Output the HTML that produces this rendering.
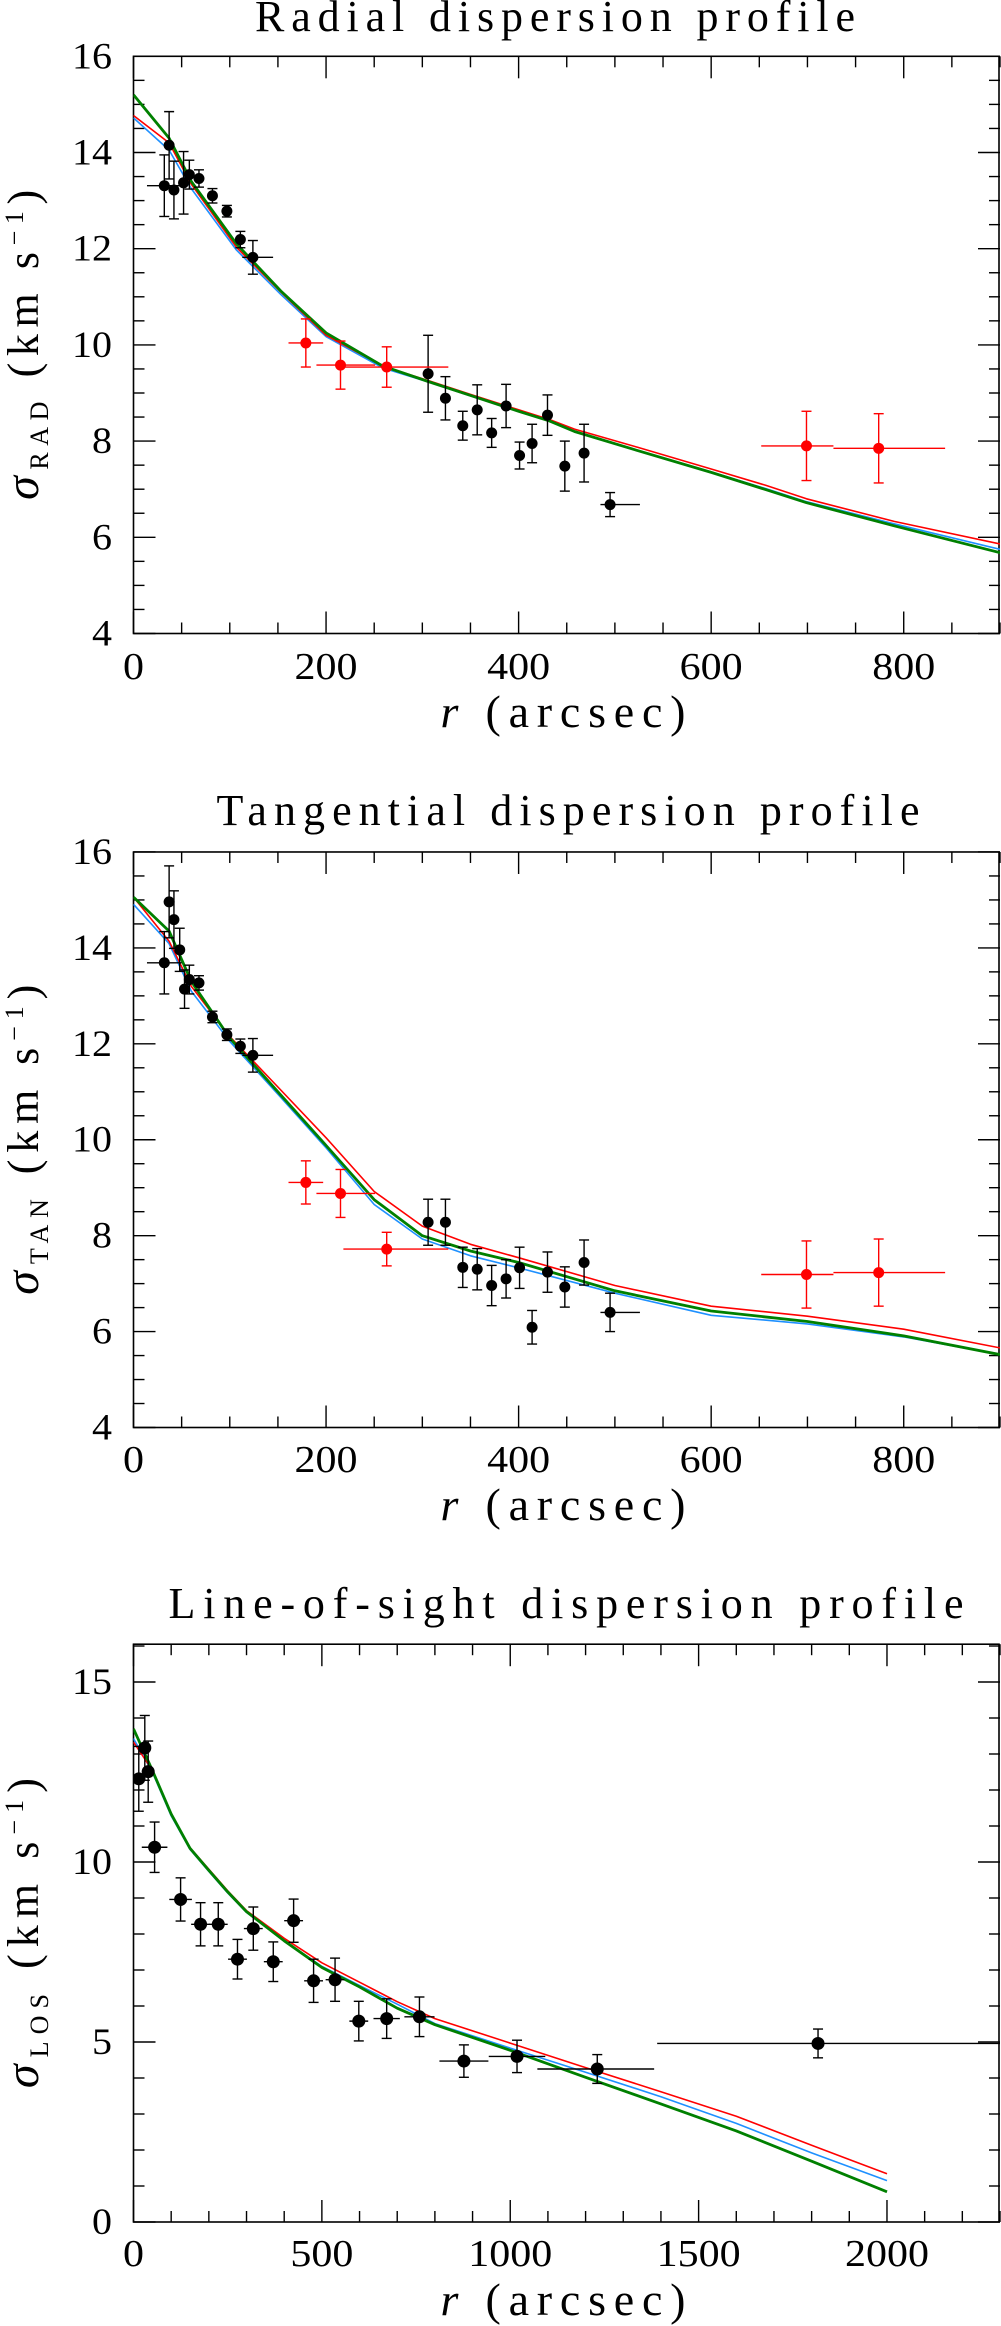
<!DOCTYPE html>
<html><head><meta charset="utf-8"><style>
html,body{margin:0;padding:0;background:#fff;}
svg{display:block;}
text{font-family:"Liberation Serif","DejaVu Serif",serif;fill:#000;}
</style></head><body>
<svg id="chart" width="1001" height="2326" viewBox="0 0 1001 2326" xmlns="http://www.w3.org/2000/svg"></svg>
<script>
// ---------- Radial panel data ----------
const radR    = [32,37,42,52,58,68,82,97,111,124,306,324,342,357,372,387,401,414,430,448,468,495];
const radV    = [13.31,14.15,13.22,13.37,13.54,13.46,13.10,12.78,12.19,11.82,9.40,8.89,8.32,8.65,8.17,8.73,7.70,7.95,8.54,7.48,7.75,6.68];
const radE    = [0.64,0.7,0.6,0.65,0.3,0.18,0.15,0.12,0.17,0.35,0.8,0.45,0.3,0.52,0.3,0.45,0.28,0.4,0.42,0.52,0.6,0.25];
const radXlo  = [18,0,0,0,0,0,0,0,0,11,0,0,0,0,0,0,0,0,0,0,0,10];
const radXhi  = [18,0,0,0,0,0,0,0,0,21,0,0,0,0,0,0,0,0,0,0,0,31];
const radRedR = [179,215,263,699,774];
const radRedV = [10.04,9.58,9.54,7.90,7.85];
const radRedE = [0.5,0.5,0.42,0.72,0.72];
const radRedXlo = [18,25,45,47,47];
const radRedXhi = [18,36,64,28,69];
const radCurveR = [0,37,60,107,153,200,259,306,350,400,432,458,524,600,657,699,790,900];
const radGreen  = [15.2,14.3,13.4,12.1,11.12,10.25,9.56,9.24,8.95,8.62,8.42,8.2,7.8,7.35,6.99,6.72,6.24,5.68];
const radRed    = [14.77,14.2,13.34,12.03,11.1,10.2,9.56,9.26,8.97,8.65,8.45,8.25,7.87,7.42,7.08,6.8,6.33,5.86];
const radBlue   = [14.72,14.05,13.25,11.97,11.05,10.17,9.52,9.23,8.94,8.62,8.42,8.2,7.8,7.36,7.01,6.74,6.28,5.75];
// ---------- Tangential panel data ----------
const tanR    = [32,37,42,48,53,58,68,82,97,111,124,306,324,342,357,372,387,401,414,430,448,468,495];
const tanV    = [13.69,14.96,14.59,13.96,13.14,13.34,13.27,12.56,12.19,11.95,11.76,8.28,8.28,7.34,7.30,6.96,7.10,7.33,6.09,7.24,6.93,7.44,6.40];
const tanE    = [0.65,0.75,0.6,0.45,0.4,0.3,0.15,0.12,0.12,0.15,0.35,0.48,0.48,0.42,0.43,0.42,0.4,0.43,0.35,0.42,0.42,0.47,0.4];
const tanXlo  = [18,0,0,0,0,0,0,0,0,0,11,0,0,0,0,0,0,0,0,0,0,0,10];
const tanXhi  = [18,0,0,0,0,0,0,0,0,0,21,0,0,0,0,0,0,0,0,0,0,0,31];
const tanRedR = [179,215,263,699,774];
const tanRedV = [9.11,8.88,7.72,7.19,7.23];
const tanRedE = [0.45,0.5,0.35,0.7,0.7];
const tanRedXlo = [18,25,45,47,47];
const tanRedXhi = [18,36,64,28,69];
const tanCurveR = [0,37,60,100,150,200,250,300,350,400,500,600,700,800,900];
const tanGreen  = [15.06,14.35,13.3,12.12,11.0,9.88,8.75,8.0,7.68,7.44,6.85,6.43,6.21,5.91,5.52];
const tanRed    = [15.06,14.14,13.2,12.15,11.1,10.04,8.92,8.2,7.82,7.54,6.96,6.53,6.32,6.05,5.66];
const tanBlue   = [14.91,14.09,13.1,12.05,10.95,9.83,8.65,7.93,7.58,7.33,6.80,6.34,6.16,5.89,5.52];
// ---------- Line-of-sight panel data ----------
const losR    = [14,30,39,56,125,178,225,276,318,371,425,478,535,598,672,759,877,1018,1231,1817];
const losV    = [12.31,13.17,12.51,10.41,8.96,8.27,8.27,7.30,8.15,7.23,8.37,6.70,6.73,5.58,5.65,5.70,4.47,4.60,4.25,4.96];
const losE    = [0.9,0.9,0.85,0.7,0.6,0.6,0.6,0.55,0.6,0.55,0.6,0.6,0.6,0.55,0.55,0.55,0.45,0.45,0.4,0.4];
const losXlo  = [14,14,14,34,30,25,25,25,25,25,25,25,25,25,35,40,65,75,159,427];
const losXhi  = [14,14,14,34,30,25,25,25,25,25,25,25,25,25,35,40,65,75,151,483];
const losCurveR = [0,50,100,150,200,250,300,400,500,600,700,800,1000,1200,1400,1600,1800,2000];
const losGreen  = [13.7,12.55,11.33,10.38,9.77,9.17,8.62,7.81,7.07,6.53,5.94,5.48,4.77,4.02,3.28,2.53,1.69,0.84];
const losRed    = [13.33,12.55,11.33,10.4,9.8,9.2,8.65,7.88,7.2,6.66,6.12,5.65,4.97,4.29,3.62,2.94,2.13,1.34];
const losBlue   = [13.43,12.5,11.28,10.35,9.74,9.14,8.6,7.82,7.1,6.57,6.05,5.51,4.83,4.16,3.48,2.74,1.92,1.15];

const NS='http://www.w3.org/2000/svg';
const svg=document.getElementById('chart');
function mk(tag,attrs,parent){const e=document.createElementNS(NS,tag);for(const k in attrs)e.setAttribute(k,attrs[k]);(parent||svg).appendChild(e);return e;}

function panel(cfg){
  const g=mk('g',{});
  
  
  const L=133.5,R=1000;
  const sx=v=>L+(v-cfg.xmin)/(cfg.xmax-cfg.xmin)*(R-L);
  const sy=v=>cfg.y0-(v-cfg.ymin)*cfg.ppu;
  const T=sy(cfg.ymax),B=sy(cfg.ymin);
  // title
  const t=mk('text',{x:cfg.titleX,y:cfg.titleY,'font-size':44,'text-anchor':'middle',textLength:cfg.titleW,lengthAdjust:'spacing'},g);
  t.textContent=cfg.title;
  
  
  // frame
  const fr=mk('rect',{x:L,y:T,width:R-L-1,height:B-T,fill:'none',stroke:'#000','stroke-width':1.6},g);
  
  
  // x ticks
  for(let v=cfg.xmin;v<=cfg.xmax+1e-6;v+=cfg.xminor){
    const major=Math.abs(v/cfg.xmajor-Math.round(v/cfg.xmajor))<1e-6;
    const len=major?22:11, x=sx(v);
    mk('line',{x1:x,y1:B,x2:x,y2:B-len,stroke:'#000','stroke-width':1.4},g);
    mk('line',{x1:x,y1:T,x2:x,y2:T+len,stroke:'#000','stroke-width':1.4},g);
    if(major && v<=cfg.xlabmax){
      const s=String(v);
      const tl=mk('text',{x:x,y:cfg.xtickY,'font-size':38,'text-anchor':'middle',textLength:s.length*21,lengthAdjust:'spacingAndGlyphs'},g);
      tl.textContent=s;
      
      
    }
  }
  // y ticks
  for(let v=cfg.ymin;v<=cfg.ymax+1e-6;v+=cfg.yminor){
    const major=Math.abs(v/cfg.ymajor-Math.round(v/cfg.ymajor))<1e-6;
    const len=major?22:11, y=sy(v);
    mk('line',{x1:L,y1:y,x2:L+len,y2:y,stroke:'#000','stroke-width':1.4},g);
    mk('line',{x1:R,y1:y,x2:R-len,y2:y,stroke:'#000','stroke-width':1.4},g);
    if(major){
      const s=String(Math.round(v));
      const tl=mk('text',{x:112,y:y+12,'font-size':37,'text-anchor':'end',textLength:s.length*20,lengthAdjust:'spacingAndGlyphs'},g);
      tl.textContent=s;
      
      
    }
  }
  // x axis title
  const xt=mk('text',{x:563,y:cfg.xlabY,'font-size':46,'text-anchor':'middle',textLength:245,lengthAdjust:'spacing'},g);
  xt.innerHTML='<tspan font-style="italic">r</tspan>  (arcsec)';
  
  
  // y axis title
  const cy=(T+B)/2;
  const yt=mk('text',{x:0,y:0,'font-size':44,'text-anchor':'middle',transform:`translate(38,${cy}) rotate(-90)`,textLength:310,lengthAdjust:'spacing'},g);
  yt.innerHTML='<tspan font-style="italic" font-size="48">σ</tspan><tspan font-size="26" dy="10">'+cfg.sub+'</tspan><tspan dy="-10">  (km s</tspan><tspan font-size="26" dy="-15">−1</tspan><tspan dy="15">)</tspan>';
  
  
  // clip
  const cid='clip'+cfg.name;
  const cp=mk('clipPath',{id:cid},g);
  mk('rect',{x:L,y:T,width:R-L,height:B-T},cp);
  const pg=mk('g',{'clip-path':`url(#${cid})`},g);
  // curves
  const curves=[[cfg.cBlue,'#1e90ff',1.6,'model-curve-blue'],[cfg.cRed,'#ff0000',1.6,'model-curve-red'],[cfg.cGreen,'#008000',2.8,'model-curve-green']];
  curves.forEach(([vals,col,w,nm])=>{
    const d=cfg.cR.map((r,i)=>(i?'L':'M')+sx(r).toFixed(1)+','+sy(vals[i]).toFixed(1)).join(' ');
    const p=mk('path',{d:d,fill:'none',stroke:col,'stroke-width':w,'stroke-linejoin':'round'},pg);
    
    
  });
  // points
  function pts(R_,V_,E_,XL,XH,col,nm){
    R_.forEach((r,i)=>{
      const pg2=mk('g',{},pg);
      
      
      const x=sx(r),y=sy(V_[i]),y1=sy(V_[i]+E_[i]),y2=sy(V_[i]-E_[i]);
      mk('line',{x1:x,y1:y1,x2:x,y2:y2,stroke:col,'stroke-width':1.4},pg2);
      mk('line',{x1:x-5,y1:y1,x2:x+5,y2:y1,stroke:col,'stroke-width':1.4},pg2);
      mk('line',{x1:x-5,y1:y2,x2:x+5,y2:y2,stroke:col,'stroke-width':1.4},pg2);
      if(XL[i]||XH[i]) mk('line',{x1:sx(r-XL[i]),y1:y,x2:sx(r+XH[i]),y2:y,stroke:col,'stroke-width':1.4},pg2);
      mk('circle',{cx:x,cy:y,r:cfg.dot,fill:col},pg2);
    });
  }
  pts(cfg.pR,cfg.pV,cfg.pE,cfg.pXL,cfg.pXH,'#000','data-point');
  if(cfg.qR) pts(cfg.qR,cfg.qV,cfg.qE,cfg.qXL,cfg.qXH,'#ff0000','data-point-red');
}

panel({name:'radial-panel',title:'Radial dispersion profile',sub:'RAD',titleX:555,titleW:600,titleY:31,
  xmin:0,xmax:900,xmajor:200,xminor:50,xlabmax:900,ymin:4,ymax:16,ymajor:2,yminor:0.5,y0:633.5,ppu:48.1,
  xtickY:679,xlabY:727,dot:5.5,
  pR:radR,pV:radV,pE:radE,pXL:radXlo,pXH:radXhi,qR:radRedR,qV:radRedV,qE:radRedE,qXL:radRedXlo,qXH:radRedXhi,
  cR:radCurveR,cGreen:radGreen,cRed:radRed,cBlue:radBlue});
panel({name:'tangential-panel',title:'Tangential dispersion profile',sub:'TAN',titleX:568,titleW:703,titleY:825,
  xmin:0,xmax:900,xmajor:200,xminor:50,xlabmax:900,ymin:4,ymax:16,ymajor:2,yminor:0.5,y0:1427.5,ppu:47.96,
  xtickY:1472,xlabY:1520,dot:5.5,
  pR:tanR,pV:tanV,pE:tanE,pXL:tanXlo,pXH:tanXhi,qR:tanRedR,qV:tanRedV,qE:tanRedE,qXL:tanRedXlo,qXH:tanRedXhi,
  cR:tanCurveR,cGreen:tanGreen,cRed:tanRed,cBlue:tanBlue});
panel({name:'line-of-sight-panel',title:'Line-of-sight dispersion profile',sub:'LOS',titleX:566,titleW:795,titleY:1618,
  xmin:0,xmax:2300,xmajor:500,xminor:100,xlabmax:2000,ymin:0,ymax:16.05,ymajor:5,yminor:1,y0:2222,ppu:36.0,
  xtickY:2266,xlabY:2315,dot:6.5,
  pR:losR,pV:losV,pE:losE,pXL:losXlo,pXH:losXhi,
  cR:losCurveR,cGreen:losGreen,cRed:losRed,cBlue:losBlue});
</script>
</body></html>
